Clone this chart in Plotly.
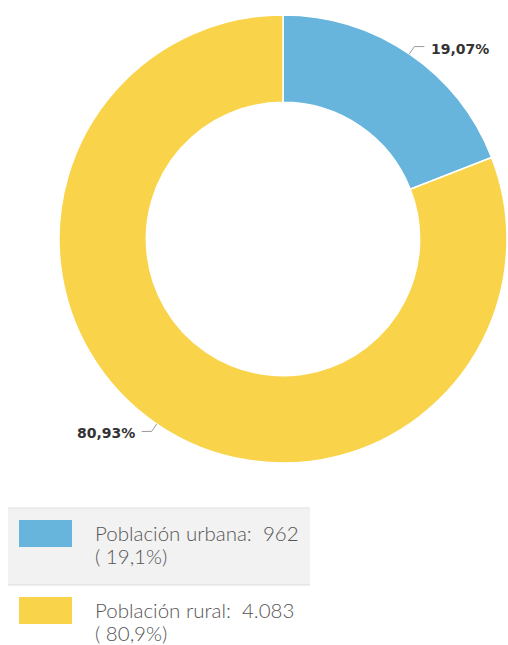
import math
import plotly.graph_objects as go

categories = ["Población urbana", "Población rural"]
values = [962, 4083]
colors = ["#67b4dc", "#f9d44b"]

W, H = 508, 645
CX, CY, R = 283, 239, 224
HOLE = 0.61

total = sum(values)
pcts = [v / total for v in values]

def px(x):
    return x / W

def py(y):
    return 1 - y / H

def fmt_int(v):
    return f"{v:,}".replace(",", ".")

def fmt_pct(p, d):
    return f"{p * 100:.{d}f}".replace(".", ",") + "%"

fig = go.Figure()
fig.add_trace(go.Pie(
    labels=categories,
    values=values,
    hole=HOLE,
    sort=False,
    direction="clockwise",
    rotation=0,
    marker=dict(colors=colors, line=dict(color="#ffffff", width=1.5)),
    textinfo="none",
    domain=dict(x=[px(CX - R), px(CX + R)], y=[py(CY + R), py(CY - R)]),
    showlegend=False,
))

shapes = []
annotations = []

# slice labels with leader lines, placed from the data angles
cum = 0.0
for i, p in enumerate(pcts):
    theta = math.radians((cum + p / 2) * 360)
    cum += p
    sx, sy = math.sin(theta), -math.cos(theta)
    x0, y0 = CX + R * sx, CY + R * sy
    x1, y1 = CX + (R + 9) * sx, CY + (R + 9) * sy
    side = 1 if sx >= 0 else -1
    x2 = x1 + side * 10
    shapes.append(dict(
        type="path", xref="paper", yref="paper",
        path=f"M {px(x0)},{py(y0)} L {px(x1)},{py(y1)} L {px(x2)},{py(y1)}",
        line=dict(color="#999999", width=1),
    ))
    annotations.append(dict(
        x=px(x2 + side * 5), y=py(y1 + 2), xref="paper", yref="paper",
        text=fmt_pct(p, 2), showarrow=False,
        xanchor="left" if side > 0 else "right", yanchor="middle",
        font=dict(family="DejaVu Sans", size=14, color="#333333", weight="bold"),
    ))

# custom legend
row_tops = [508, 585]
row_h = 77
for i, (cat, v, p, c) in enumerate(zip(categories, values, pcts, colors)):
    top = row_tops[i]
    if i == 0:
        shapes.append(dict(type="rect", xref="paper", yref="paper",
                           x0=px(8), x1=px(310), y0=py(top + row_h), y1=py(top),
                           fillcolor="#f2f2f2", line=dict(width=0), layer="below"))
        shapes.append(dict(type="line", xref="paper", yref="paper",
                           x0=px(8), x1=px(310), y0=py(top), y1=py(top),
                           line=dict(color="#e0e0e0", width=1)))
        shapes.append(dict(type="line", xref="paper", yref="paper",
                           x0=px(8), x1=px(310), y0=py(top + row_h), y1=py(top + row_h),
                           line=dict(color="#dddddd", width=1)))
    shapes.append(dict(type="rect", xref="paper", yref="paper",
                       x0=px(19), x1=px(72), y0=py(top + 39), y1=py(top + 12),
                       fillcolor=c, line=dict(width=0)))
    annotations.append(dict(
        x=px(93), y=py(top + 25), xref="paper", yref="paper",
        text=f"{cat}:  {fmt_int(v)}", showarrow=False,
        xanchor="left", yanchor="middle",
        font=dict(family="Lato", size=20.5, color="#555555", weight=300),
    ))
    annotations.append(dict(
        x=px(93), y=py(top + 48), xref="paper", yref="paper",
        text=f"( {p * 100:.1f}%)".replace(".", ","), showarrow=False,
        xanchor="left", yanchor="middle",
        font=dict(family="Lato", size=20.5, color="#555555", weight=300),
    ))

fig.update_layout(
    width=W, height=H,
    margin=dict(l=0, r=0, t=0, b=0),
    paper_bgcolor="#ffffff",
    plot_bgcolor="#ffffff",
    shapes=shapes,
    annotations=annotations,
)

fig.write_html("out.html", config={"displayModeBar": False},
               post_script="document.body.style.margin='0';")
